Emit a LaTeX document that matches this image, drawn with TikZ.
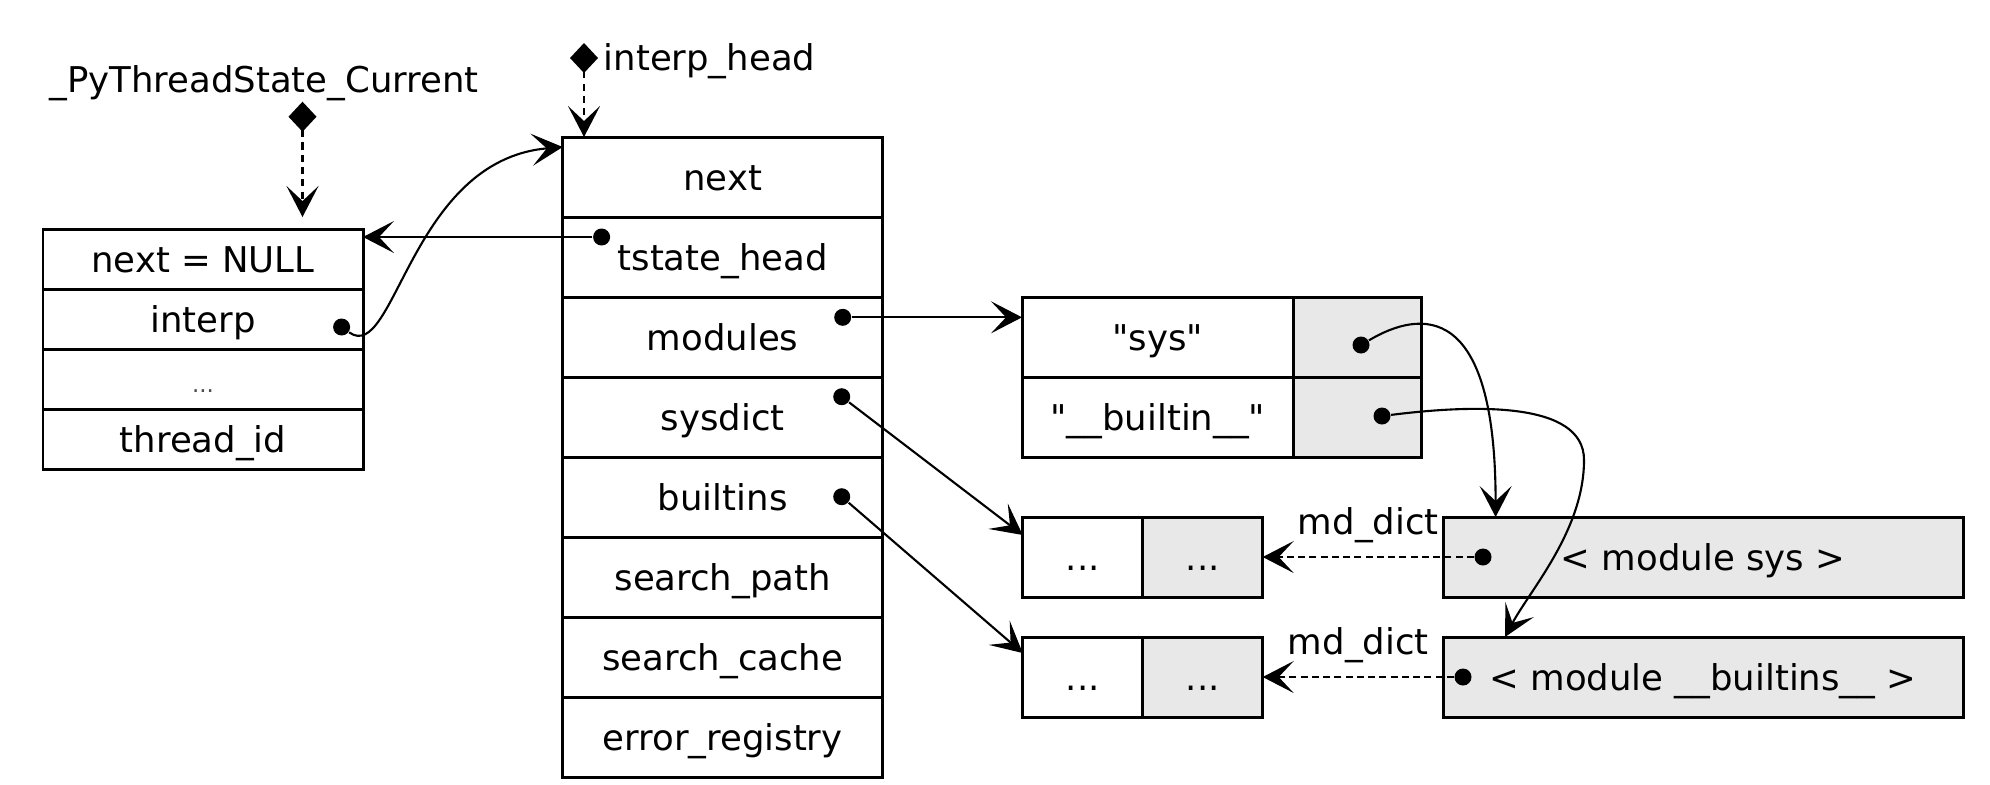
\documentclass[tikz,border=0pt]{standalone}
\usepackage{fontspec}
\setmainfont{DejaVu Sans}
\usetikzlibrary{arrows.meta,positioning,calc}
\definecolor{boxgray}{RGB}{232,232,232}
\newcommand{\fewdots}{{\fontsize{6.5}{7}\selectfont\color{black!70}...}}
\tikzset{
  cell/.style={draw, line width=0.85pt, inner sep=0pt, outer sep=0pt, text height=0.75em, text depth=0pt},
  grayfill/.style={fill=boxgray},
  ptrdot/.style={circle, fill, inner sep=0pt, minimum size=0.17cm},
  ptr/.style={line width=0.6pt, -{Stealth[length=0.31cm, width=0.32cm, inset=0.15cm]}},
  dictptr/.style={ptr, dash pattern=on 2pt off 1.2pt},
  rootptr/.style={line width=0.6pt, dash pattern=on 2pt off 1.5pt,
    {Diamond[length=0.30cm, width=0.28cm]}-{Stealth[length=0.31cm, width=0.32cm, inset=0.15cm]}}
}
\begin{document}
\begin{tikzpicture}[font=\fontsize{10.1}{12}\selectfont]
\useasboundingbox (0,0) rectangle (19.9,-7.84);
% thread state
\foreach \t [count=\i] in {next = NULL, interp, \fewdots, thread\_id}
  \node[cell, minimum width=3.2cm, minimum height=0.6cm] (ts\i) at (2.03,{-1.99-0.6*\i}) {\t};
% interpreter state
\foreach \t [count=\i] in {next, tstate\_head, modules, sysdict, builtins, search\_path, search\_cache, error\_registry}
  \node[cell, minimum width=3.2cm, minimum height=0.8cm] (is\i) at (7.227,{-0.97-0.8*\i}) {\t};
% modules
\node[cell, minimum width=2.716cm, minimum height=0.8cm] (sk1) at (11.578,-3.37) {\textquotedbl sys\textquotedbl};
\node[cell, grayfill, minimum width=1.28cm, minimum height=0.8cm, right=0pt of sk1] (sv1) {};
\node[cell, minimum width=2.716cm, minimum height=0.8cm, below=0pt of sk1] (sk2) {\textquotedbl\_\_builtin\_\_\textquotedbl};
\node[cell, grayfill, minimum width=1.28cm, minimum height=0.8cm, right=0pt of sk2] (sv2) {};
% md_dict
\node[cell, minimum width=1.2cm, minimum height=0.8cm] (dk1) at (10.827,-5.57) {...};
\node[cell, grayfill, minimum width=1.2cm, minimum height=0.8cm, right=0pt of dk1] (dv1) {...};
\node[cell, minimum width=1.2cm, minimum height=0.8cm] (dk2) at (10.827,-6.77) {...};
\node[cell, grayfill, minimum width=1.2cm, minimum height=0.8cm, right=0pt of dk2] (dv2) {...};
% module objects
\node[cell, grayfill, minimum width=5.2cm, minimum height=0.8cm] (ms) at (17.03,-5.57) {< module sys >};
\node[cell, grayfill, minimum width=5.2cm, minimum height=0.8cm] (mb) at (17.03,-6.77) {< module \_\_builtins\_\_ >};

% globals
\node[anchor=base, inner sep=0pt] (tsc-name) at (2.64,-0.92) {\_PyThreadState\_Current};
\coordinate (tsc-root) at (3.025,-1.017);
\draw[rootptr] (tsc-root) -- ($(tsc-root |- ts1.north)+(0,0.12)$);
\node[anchor=base west, inner sep=0pt] (ih-name) at (6.03,-0.70) {interp\_head};
\coordinate (ih-root) at (5.84,-0.43);
\draw[rootptr] (ih-root) -- (ih-root |- is1.north);

% pointers
\node[ptrdot] (p-interp) at (3.416,-3.27) {};
\node[ptrdot] (p-tstate) at (6.016,-2.37) {};
\node[ptrdot] (p-modules) at (8.427,-3.173) {};
\node[ptrdot] (p-sysdict) at (8.417,-3.967) {};
\node[ptrdot] (p-builtins) at (8.417,-4.967) {};
\node[ptrdot] (p-sys) at (13.61,-3.45) {};
\node[ptrdot] (p-builtin) at (13.82,-4.16) {};
\node[ptrdot] (p-msys) at (14.83,-5.57) {};
\node[ptrdot] (p-mbuiltin) at (14.63,-6.77) {};

\draw[ptr] (p-tstate) -- (p-tstate -| ts1.east);
\draw[ptr] (p-interp) .. controls (3.95,-3.65) and (4.10,-1.60) .. ([yshift=-0.10cm]is1.north west);
\draw[ptr] (p-modules) -- (p-modules -| sk1.west);
\draw[ptr] (p-sysdict) -- ([yshift=-0.18cm]dk1.north west);
\draw[ptr] (p-builtins) -- ([yshift=-0.16cm]dk2.north west);
\draw[ptr] (p-sys) .. controls (14.20,-3.10) and (14.956,-3.00) .. ([xshift=0.526cm]ms.north west);
\draw[ptr] (p-builtin) .. controls (14.70,-4.05) and (15.84,-4.00) .. (15.84,-4.60)
  .. controls (15.84,-5.30) and (15.30,-5.90) .. ([xshift=0.62cm]mb.north west);
\draw[dictptr] (p-msys) -- node[above=0.5pt] (md1) {md\_dict} (p-msys -| dv1.east);
\draw[dictptr] (p-mbuiltin) -- node[above=0.5pt] (md2) {md\_dict} (p-mbuiltin -| dv2.east);
\end{tikzpicture}
\end{document}
